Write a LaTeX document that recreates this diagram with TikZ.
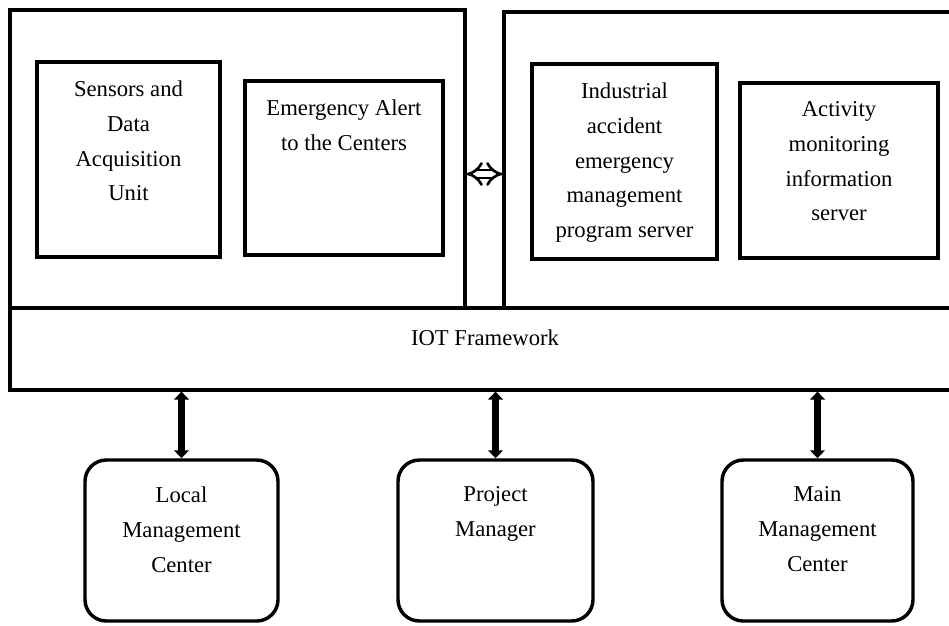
\documentclass[tikz,border=0pt]{standalone}
\usepackage{fontspec}
\setmainfont{Liberation Serif}
\usetikzlibrary{arrows.meta,positioning,fit}

\begin{document}
\begin{tikzpicture}[x=0.75pt,y=-0.75pt,
    panel/.style={draw,line width=2.4pt,inner sep=0pt},
    unitbox/.style={draw,line width=2.6pt,inner sep=0pt},
    centerbox/.style={draw,line width=2.6pt,inner sep=0pt,rounded corners=16pt},
    txt/.style={align=center,font=\fontsize{17}{26}\selectfont},
    vlink/.style={line width=5pt,{Triangle[width=11pt,length=6pt]}-{Triangle[width=11pt,length=6pt]}},
    hlink/.style={double,double distance=4pt,line width=2pt,{Implies[length=4pt]}-{Implies[length=4pt]}}]
    \clip (0,0) rectangle (949,625);
    \useasboundingbox (0,0) rectangle (949,625);
    \node[panel,fit={(10,10) (465,308)}] (left) {};
    \node[panel,fit={(504,12) (970,308)}] (right) {};
    \node[panel,fit={(10,308) (970,390)}] (iot) {};
    \node[txt] (iottxt) at (485,338) {IOT Framework};
    \node[unitbox,fit={(37,62) (220,257)}] (sensors) {};
    \node[txt,below=12pt of sensors.north] (sensorstxt) {Sensors and\\Data\\Acquisition\\Unit};
    \node[unitbox,fit={(245,81) (443,255)}] (alert) {};
    \node[txt,below=12pt of alert.north] (alerttxt) {Emergency Alert\\to the Centers};
    \node[unitbox,fit={(532,64) (717,259)}] (server) {};
    \node[txt,below=12pt of server.north] (servertxt) {Industrial\\accident\\emergency\\management\\program server};
    \node[unitbox,fit={(740,83) (938,258)}] (monitor) {};
    \node[txt,below=12pt of monitor.north] (monitortxt) {Activity\\monitoring\\information\\server};
    \coordinate (mid) at (485,174);
    \draw[hlink] (mid -| left.east) -- (mid -| right.west);
    \node[centerbox,fit={(85,460) (278,621)}] (local) {};
    \node[txt,below=18pt of local.north] (localtxt) {Local\\Management\\Center};
    \node[centerbox,fit={(398,460) (593,621)}] (manager) {};
    \node[txt,below=18pt of manager.north] (managertxt) {Project\\Manager};
    \node[centerbox,fit={(722,460) (913,621)}] (main) {};
    \node[txt,below=18pt of main.north] (maintxt) {Main\\Management\\Center};
    \draw[vlink] (local.north) -- (local.north |- iot.south);
    \draw[vlink] (manager.north) -- (manager.north |- iot.south);
    \draw[vlink] (main.north) -- (main.north |- iot.south);
\end{tikzpicture}
\end{document}
